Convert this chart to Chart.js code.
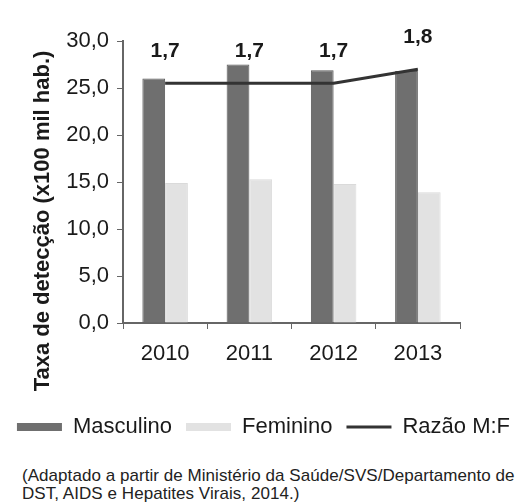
<!DOCTYPE html>
<html lang="pt">
<head>
<meta charset="utf-8">
<script src="https://cdn.jsdelivr.net/npm/chart.js@4/dist/chart.umd.min.js"></script>
<style>
  html, body { margin: 0; padding: 0; background: #ffffff; }
  #wrap { position: relative; width: 527px; height: 502px; overflow: hidden; }
  #box { position: absolute; left: 0; top: 0; width: 527px; height: 458px; }
  #fonte {
    position: absolute; left: 22px; top: 467px; width: 505px;
    font-family: "Liberation Sans", Arial, sans-serif; font-size: 17px;
    line-height: 18px; color: #222; letter-spacing: 0.05px; white-space: nowrap;
  }
</style>
</head>
<body>
<div id="wrap">
  <div id="box"><canvas id="grafico"></canvas></div>
  <div id="fonte">(Adaptado a partir de Ministério da Saúde/SVS/Departamento de<br>DST, AIDS e Hepatites Virais, 2014.)</div>
</div>
<script>
// Taxa de detecção de AIDS por sexo (por 100 mil habitantes) e razão M:F
const anos = ['2010', '2011', '2012', '2013'];
const masculino = [26.0, 27.5, 26.9, 26.8];
const feminino = [14.9, 15.3, 14.8, 13.9];
const razaoMF = [1.7, 1.7, 1.7, 1.8];
const ticksY = [0, 5, 10, 15, 20, 25, 30];
const tituloY = 'Taxa de detecção (x100 mil hab.)';

const FONTE = '"Liberation Sans", Arial, sans-serif';
const virgula = v => v.toFixed(1).replace('.', ',');

// rótulos da razão M:F acima da linha e título vertical do eixo
const extras = {
  id: 'extras',
  afterDatasetsDraw(chart) {
    const ctx = chart.ctx;
    const meta = chart.getDatasetMeta(2);
    ctx.save();
    ctx.fillStyle = '#1a1a1a';
    ctx.font = 'bold 21px ' + FONTE;
    ctx.textAlign = 'center';
    ctx.textBaseline = 'middle';
    meta.data.forEach((pt, i) => {
      ctx.fillText(virgula(razaoMF[i]), pt.x, pt.y - 32);
    });
    ctx.restore();
  },
  afterDraw(chart) {
    const ctx = chart.ctx;
    ctx.save();
    ctx.translate(43, 221);
    ctx.rotate(-Math.PI / 2);
    ctx.fillStyle = '#1a1a1a';
    ctx.font = 'bold 22px ' + FONTE;
    ctx.textAlign = 'center';
    ctx.textBaseline = 'middle';
    ctx.fillText(tituloY, 0, 0);
    ctx.restore();
  }
};

new Chart(document.getElementById('grafico'), {
  type: 'bar',
  data: {
    labels: anos,
    datasets: [
      {
        label: 'Masculino', data: masculino, yAxisID: 'y', order: 2,
        backgroundColor: '#6f6f6f', borderColor: '#5a5a5a', borderWidth: 1,
        pointStyle: 'rect'
      },
      {
        label: 'Feminino', data: feminino, yAxisID: 'y', order: 2,
        backgroundColor: '#e2e2e2', borderColor: '#dadada', borderWidth: 1,
        pointStyle: 'rect'
      },
      {
        type: 'line', label: 'Razão M:F', data: razaoMF, yAxisID: 'y2', order: 1,
        borderColor: '#333333', backgroundColor: '#333333', borderWidth: 3,
        pointRadius: 0, tension: 0, pointStyle: 'line'
      }
    ]
  },
  options: {
    responsive: true,
    maintainAspectRatio: false,
    animation: false,
    layout: { padding: { left: 0, right: 0, top: 41, bottom: 10 } },
    datasets: { bar: { barPercentage: 1.0, categoryPercentage: 0.54 } },
    scales: {
      x: {
        offset: true,
        afterFit(scale) { scale.height = 79; },
        grid: { display: true, offset: true, drawOnChartArea: false, drawTicks: true, tickLength: 6, color: '#666' },
        border: { display: true, color: '#666', width: 2 },
        ticks: { color: '#1a1a1a', font: { family: FONTE, size: 22 }, padding: 12 }
      },
      y: {
        min: 0, max: 30,
        afterFit(scale) { scale.width = 123; },
        afterBuildTicks(scale) { scale.ticks = ticksY.map(v => ({ value: v })); },
        grid: { display: true, drawOnChartArea: false, drawTicks: true, tickLength: 6, color: '#666' },
        border: { display: true, color: '#666', width: 2 },
        ticks: { color: '#1a1a1a', font: { family: FONTE, size: 22 }, padding: 8, callback: v => virgula(v) }
      },
      y2: {
        position: 'right', min: 0, max: 2,
        afterFit(scale) { scale.width = 67; },
        grid: { display: false },
        border: { display: false },
        ticks: { display: false }
      }
    },
    plugins: {
      tooltip: { enabled: false },
      legend: {
        position: 'bottom',
        labels: {
          usePointStyle: true,
          pointStyleWidth: 45,
          boxWidth: 45,
          boxHeight: 8,
          padding: 14,
          color: '#1a1a1a',
          font: { family: FONTE, size: 22 },
          sort: (a, b) => a.datasetIndex - b.datasetIndex,
          generateLabels(chart) {
            const itens = Chart.defaults.plugins.legend.labels.generateLabels(chart);
            itens.forEach(it => {
              const ds = chart.data.datasets[it.datasetIndex];
              it.pointStyle = ds.pointStyle;
              if (ds.type === 'line') { it.lineWidth = 3; it.strokeStyle = '#333333'; }
              else { it.lineWidth = 0; }
            });
            return itens;
          }
        }
      }
    }
  },
  plugins: [extras]
});
</script>
</body>
</html>
